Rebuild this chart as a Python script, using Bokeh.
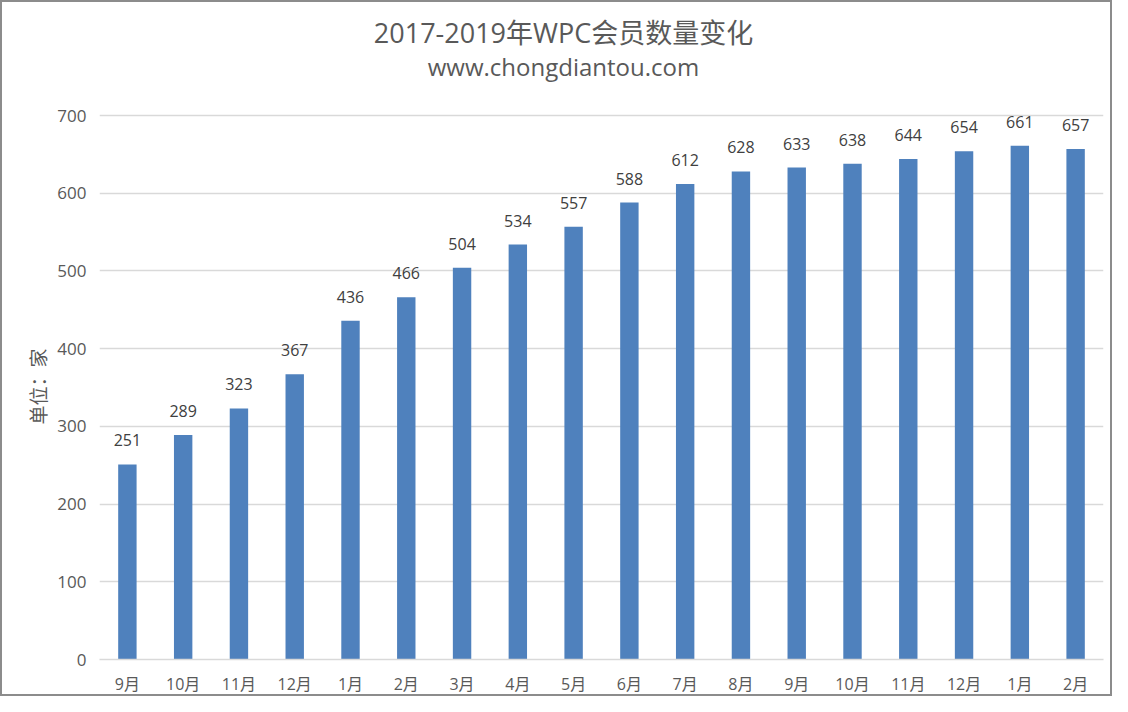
from bokeh.plotting import figure
from bokeh.models import Range1d, FixedTicker, ColumnDataSource, LabelSet, Label, Title
from bokeh.core.properties import value
from bokeh.embed import file_html
from bokeh.resources import INLINE

months = ["9月", "10月", "11月", "12月", "1月", "2月", "3月", "4月", "5月", "6月",
          "7月", "8月", "9月", "10月", "11月", "12月", "1月", "2月"]
members = [251, 289, 323, 367, 436, 466, 504, 534, 557, 588,
           612, 628, 633, 638, 644, 654, 661, 657]
title_text = "2017-2019年WPC会员数量变化"
subtitle_text = "www.chongdiantou.com"
y_label = "单位：家"
y_ticks = [0, 100, 200, 300, 400, 500, 600, 700]

FONT = "Open Sans, Noto Sans CJK SC"
TXT = "#595959"

idx = list(range(len(members)))
src = ColumnDataSource(dict(x=idx, y=members, lab=[str(v) for v in members]))
y_max = y_ticks[-1]

W, H = 1112, 696
MB_L, MB_R, MB_T, MB_B = 97, 11, 9, 39
frame_h = H - MB_T - MB_B
plot_px = 544  # pixel height of the 0..700 band
y_top = y_max * frame_h / plot_px

p = figure(width=W, height=H, output_backend="svg", toolbar_location=None,
           x_range=Range1d(-0.5, len(members) - 0.5), y_range=Range1d(0, y_top))
p.min_border_left = MB_L
p.min_border_right = MB_R
p.min_border_bottom = MB_B
p.min_border_top = MB_T
p.outline_line_color = None
p.background_fill_color = "white"
p.border_fill_color = "white"

p.vbar(x="x", top="y", width=0.33, source=src, fill_color="#4f81bd", line_color=None)

labels = LabelSet(x="x", y="y", text="lab", source=src, text_align="center",
                  text_baseline="bottom", y_offset=18, text_font_size="16px",
                  text_color="#404040", text_font=value(FONT))
p.add_layout(labels)

mid = (len(members) - 1) / 2
main = Label(x=mid, y=y_max, x_offset=-38, y_offset=83, text=title_text,
             text_align="center", text_baseline="middle", text_font_size="27px",
             text_font=FONT, text_color=TXT)
sub = Label(x=mid, y=y_max, x_offset=-38, y_offset=49, text=subtitle_text,
            text_align="center", text_baseline="middle", text_font_size="24px",
            text_font=FONT, text_color=TXT)
p.add_layout(main)
p.add_layout(sub)

ylab = Title(text=y_label, align="left", offset=235, text_font_size="19px",
             text_font=FONT, text_color=TXT, text_font_style="normal", standoff=6)
p.add_layout(ylab, "left")

p.xgrid.grid_line_color = None
p.ygrid.grid_line_color = "#d9d9d9"
p.ygrid.grid_line_width = 1.3
p.ygrid.ticker = FixedTicker(ticks=y_ticks)

p.xaxis.ticker = FixedTicker(ticks=idx)
p.xaxis.major_label_overrides = {i: m for i, m in zip(idx, months)}
p.xaxis.axis_line_color = "#d9d9d9"
p.xaxis.axis_line_width = 1.3
p.xaxis.major_tick_line_color = None
p.xaxis.minor_tick_line_color = None
p.xaxis.major_label_text_font_size = "16px"
p.xaxis.major_label_text_color = TXT
p.xaxis.major_label_text_font = FONT
p.xaxis.major_label_standoff = 7

p.yaxis.ticker = FixedTicker(ticks=y_ticks)
p.yaxis.axis_line_color = None
p.yaxis.major_tick_line_color = None
p.yaxis.minor_tick_line_color = None
p.yaxis.major_label_text_font_size = "17px"
p.yaxis.major_label_text_color = TXT
p.yaxis.major_label_text_font = FONT
p.yaxis.major_label_standoff = 7

p.styles = {"border": "2px solid #8c8c8c"}

open("out.html", "w").write(file_html(p, INLINE))
